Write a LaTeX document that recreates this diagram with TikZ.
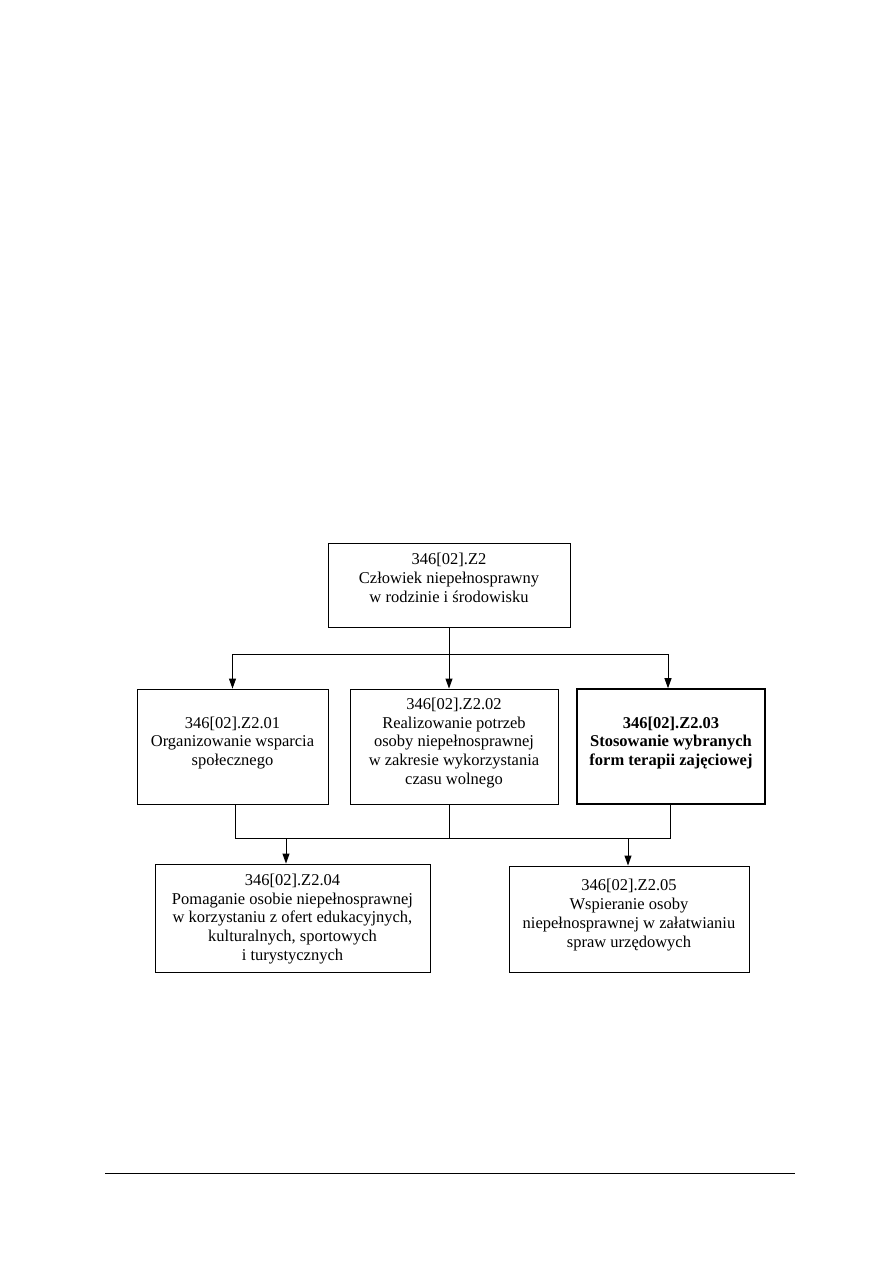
\documentclass[tikz,border=0pt]{standalone}
\usepackage{fontspec}
\setmainfont{Liberation Serif}
\usetikzlibrary{arrows.meta}
\begin{document}
\begin{tikzpicture}[x=1pt,y=-1pt,
  box/.style={draw,line width=0.9pt,minimum width=#1,inner sep=0pt},
  boldbox/.style={draw,line width=1.6pt,minimum width=#1,inner sep=0pt},
  txt/.style={align=center,font=\fontsize{16.5}{18.9}\selectfont,inner sep=0pt},
  conn/.style={line width=0.9pt},
  arr/.style={line width=0.9pt,-{Triangle[length=10pt,width=7pt]}}]
\useasboundingbox (0,0) rectangle (893,1263);
% boxes
\node[box=242pt,minimum height=84pt] (top) at (449,585) {};
\node[txt] (ttop) at (449,577.5) {346[02].Z2\\Człowiek niepełnosprawny\\w rodzinie i środowisku};
\node[box=191pt,minimum height=115pt] (b1) at (232.5,746.5) {};
\node[txt] (t1) at (232.5,743) {346[02].Z2.01\\Organizowanie wsparcia\\społecznego};
\node[box=208pt,minimum height=115pt] (b2) at (454,746.5) {};
\node[txt] (t2) at (454,743) {346[02].Z2.02\\Realizowanie potrzeb\\osoby niepełnosprawnej\\w zakresie wykorzystania\\czasu wolnego};
\node[boldbox=188pt,minimum height=115pt] (b3) at (671,746.5) {};
\node[txt,font=\fontsize{16.5}{18.9}\selectfont\bfseries] (t3) at (671,743) {346[02].Z2.03\\Stosowanie wybranych\\form terapii zajęciowej};
\node[box=275pt,minimum height=108pt] (b4) at (292.5,918) {};
\node[txt] (t4) at (292.5,919) {346[02].Z2.04\\Pomaganie osobie niepełnosprawnej\\w korzystaniu z ofert edukacyjnych,\\kulturalnych, sportowych\\i turystycznych};
\node[box=240pt,minimum height=106pt] (b5) at (629,919) {};
\node[txt] (t5) at (629,915) {346[02].Z2.05\\Wspieranie osoby\\niepełnosprawnej w załatwianiu\\spraw urzędowych};
% connectors top
\coordinate (j1) at (449,654);
\draw[conn] (top.south) -- (j1);
\draw[arr] (j1) -| (b1.north);
\draw[arr] (j1) -- (j1 |- b2.north);
\coordinate (j3) at (668,654);
\draw[arr] (j1) -- (j3) -- (j3 |- b3.north);
% connectors bottom
\coordinate (k1) at (235,838);
\coordinate (k3) at (670,838);
\draw[conn] (b1.south -| k1) -- (k1) -- (k3) -- (k3 |- b3.south);
\draw[conn] (b2.south -| j1) -- (j1 |- k1);
\coordinate (a4) at (286,838);
\coordinate (a5) at (628,838);
\draw[arr] (a4) -- (a4 |- b4.north);
\draw[arr] (a5) -- (a5 |- b5.north);
% footer rule
\coordinate (f1) at (105,1173);
\coordinate (f2) at (795,1173);
\draw[line width=1pt] (f1) -- (f2);
\end{tikzpicture}
\end{document}
